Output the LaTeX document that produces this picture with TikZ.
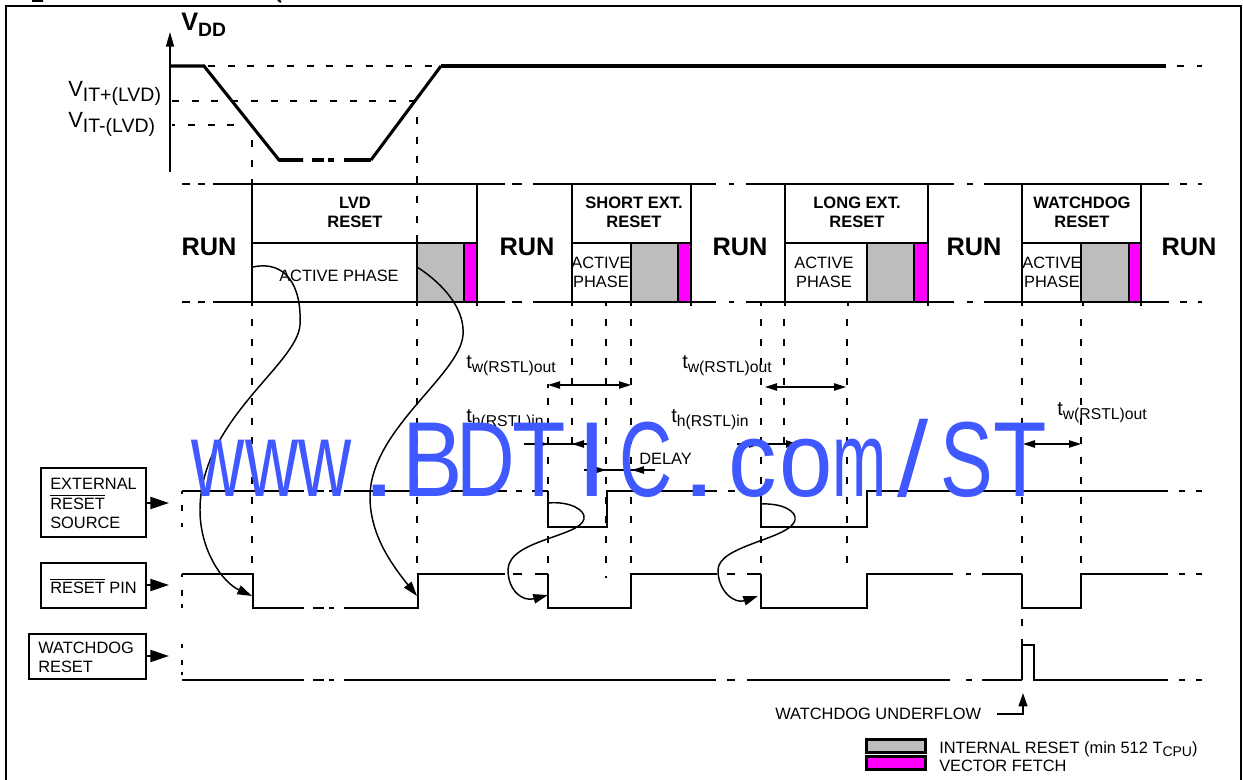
\documentclass[tikz,border=0pt]{standalone}
\usepackage{fontspec}
\usepackage{graphicx}
\setmainfont{Liberation Sans}
\usetikzlibrary{arrows.meta}
\definecolor{wmblue}{RGB}{64,88,255}
\definecolor{resetgray}{RGB}{189,189,189}
\definecolor{fetchmag}{RGB}{255,0,255}
\newcommand{\fnt}[1]{\fontsize{#1}{#1}\selectfont}
\newcommand{\reg}{\fnt{12.3}}
\newcommand{\tsym}[1]{{\fnt{15}t}\raisebox{-3pt}{\fnt{11.8}#1}}
\newcommand{\wg}[2]{\makebox[40.09pt][c]{\scalebox{#1}[1]{#2}}}
\tikzset{
  x=0.75pt,y=-0.75pt,
  sig/.style={line width=1.5pt,line cap=butt},
  thin line/.style={line width=1pt},
  dash line/.style={line width=1.5pt,dash pattern=on 5.2pt off 9.6pt},
  thick sig/.style={line width=3pt},
  mid sig/.style={line width=2.3pt},
  tip/.style={-{Triangle[length=14pt,width=9pt]}},
  tiptwo/.style={{Triangle[length=9pt,width=5.5pt]}-{Triangle[length=9pt,width=5.5pt]}},
  tipone/.style={-{Triangle[length=9pt,width=5.5pt]}},
  curve/.style={line width=1.1pt,-{Triangle[length=11pt,width=7pt]}},
  lbl/.style={anchor=base west,inner sep=0pt,font=\reg},
  lblc/.style={anchor=base,inner sep=0pt,font=\reg,align=center},
  boldc/.style={anchor=base,inner sep=0pt,font=\fnt{12.4}\bfseries},
  runlbl/.style={anchor=center,inner sep=0pt,font=\fnt{19}\bfseries},
  boxn/.style={draw=black,line width=1.5pt,anchor=north west,inner sep=0pt},
  legbox/.style={draw=black,line width=2pt,anchor=north west,minimum width=44.5pt,minimum height=10pt,inner sep=0pt},
}
\begin{document}
\begin{tikzpicture}
\useasboundingbox (0,0) rectangle (1243,780);
% frame
\draw[line width=1.5pt] (6,780) -- (6,6) -- (1241,6) -- (1241,780);
\draw[line width=1.5pt] (32,1) -- (43,1) (278,0) -- (281,2);

% VDD axis
\coordinate (axb) at (170,172); \coordinate (axt) at (170,32);
\draw[line width=1.2pt,-{Triangle[length=11pt,width=6pt]}] (axb) -- (axt);
\node[anchor=base west,inner sep=0pt] (vdd) at (181,31) {\fnt{19}\bfseries V\raisebox{-4.5pt}{\fnt{14.5}DD}};
\node[anchor=base west,inner sep=0pt] (vp) at (68,97) {\fnt{16.5}V\raisebox{-3.5pt}{\fnt{14.6}IT+(LVD)}};
\node[anchor=base west,inner sep=0pt] (vm) at (68,128) {\fnt{16.5}V\raisebox{-3.5pt}{\fnt{14.6}IT-(LVD)}};

% threshold dashes
\draw[dash line] (208,66) -- (441,66);
\draw[dash line] (172,101) -- (417,101);
\draw[sig] (172,125) -- (175,125);
\draw[dash line] (188,125) -- (240,125);
% VDD curve
\draw[mid sig,line join=miter] (170,66) -- (204,66) -- (279,160) -- (303,160);
\draw[thick sig] (279,160) -- (303,160) (312,160) -- (324,160) (328,160) -- (334,160) (344,160) -- (371,160);
\draw[mid sig] (371,160) -- (441,66);
\draw[thick sig] (441,66) -- (1166,66);
\draw[line width=2pt] (1177,66) -- (1184,66) (1197,66) -- (1202,66);

% phase fills
\foreach \a/\b/\c in {417/464/477,631/678/691,867/914/928,1081/1129/1141}{
  \fill[resetgray] (\a,243) rectangle (\b,302);
  \fill[fetchmag] (\b,243) rectangle (\c,302);
  \draw[sig] (\a,243) -- (\a,302) (\b,243) -- (\b,302);
}
% phase table lines
\draw[sig] (182,184) -- (190,184) (198,184) -- (205,184) (213,184) -- (505,184) (512,184) -- (522,184) (533,184) -- (716,184) (729,184) -- (734,184) (746,184) -- (954,184) (967,184) -- (973,184) (984,184) -- (1169,184) (1180,184) -- (1187,184) (1198,184) -- (1202,184);
\draw[sig] (182,302) -- (190,302) (198,302) -- (205,302) (213,302) -- (505,302) (512,302) -- (522,302) (533,302) -- (716,302) (729,302) -- (734,302) (746,302) -- (954,302) (967,302) -- (973,302) (984,302) -- (1169,302) (1180,302) -- (1187,302) (1198,302) -- (1202,302);
\draw[sig] (252,243) -- (477,243) (572,243) -- (691,243) (785,243) -- (928,243) (1022,243) -- (1141,243);
\foreach \x in {252,477,572,691,785,928,1022,1141}{ \draw[sig] (\x,184) -- (\x,302); }
\foreach \x in {252,417,477,572,606,631,691,761,785,848,928,1022,1083,1141}{ \draw[sig] (\x,302) -- (\x,306); }

% phase texts
\node[runlbl] (run1) at (209,247) {RUN};
\node[runlbl] (run2) at (527,247) {RUN};
\node[runlbl] (run3) at (740,247) {RUN};
\node[runlbl] (run4) at (974,247) {RUN};
\node[runlbl] (run5) at (1189,247) {RUN};
\foreach \n/\x/\t in {a/355/LVD,b/634/SHORT EXT.,c/857/LONG EXT.,d/1082/WATCHDOG}{
  \node[boldc] (h\n) at (\x,208.5) {\t};
  \node[boldc] (r\n) at (\x,227.5) {RESET};
}
\node[lblc] (ap1) at (339,282) {ACTIVE PHASE};
\foreach \n/\x in {b/601,c/824,d/1052}{
  \node[lblc] (aa\n) at (\x,269) {ACTIVE};
  \node[lblc] (ab\n) at (\x,288) {PHASE};
}

% vertical dashed guides
\draw[dash line] (252,140) -- (252,184);
\draw[dash line] (417,117) -- (417,243);
\draw[dash line] (252,319) -- (252,574);
\draw[dash line] (417,319) -- (417,574);
\draw[sig] (548,384) -- (548,388);
\draw[dash line] (548,398) -- (548,574);
\draw[dash line] (572,319) -- (572,443);
\draw[dash line] (606,319) -- (606,578);
\draw[dash line] (631,319) -- (631,574);
\draw[dash line] (761,319) -- (761,574);
\draw[dash line] (784,319) -- (784,443);
\draw[dash line] (847,319) -- (847,575);
\draw[dash line] (1022,319) -- (1022,574);
\draw[dash line] (1022,619) -- (1022,650);
\draw[dash line] (1081,319) -- (1081,574);
\draw[sig] (182,491) -- (182,494) (182,505) -- (182,511) (182,523) -- (182,527);
\draw[sig] (182,574) -- (182,577) (182,590) -- (182,596) (182,604) -- (182,608);
\draw[sig] (182,644) -- (182,648) (182,660) -- (182,665) (182,672) -- (182,675);

% external reset waveform
\draw[sig] (182,491) -- (304,491) (313,491) -- (324,491) (329,491) -- (334,491) (344,491) -- (507,491) (516,491) -- (522,491) (532,491) -- (548,491);
\draw[sig] (548,491) -- (548,527) -- (607,527) -- (607,491) -- (717,491) (728,491) -- (735,491) (750,491) -- (761,491);
\draw[sig] (761,491) -- (761,527) -- (867,527) -- (867,491) -- (1168,491) (1179,491) -- (1185,491) (1196,491) -- (1202,491);
% reset pin waveform
\draw[sig] (182,574) -- (253,574) -- (253,608) -- (304,608) (313,608) -- (324,608) (329,608) -- (334,608) (344,608) -- (418,608) -- (418,574) -- (505,574) (513,574) -- (522,574) (535,574) -- (548,574);
\draw[sig] (548,574) -- (548,608) -- (631,608) -- (631,574) -- (717,574) (727,574) -- (735,574) (747,574) -- (761,574);
\draw[sig] (761,574) -- (761,608) -- (867,608) -- (867,574) -- (953,574) (966,574) -- (971,574) (982,574) -- (1022,574);
\draw[sig] (1022,574) -- (1022,608) -- (1081,608) -- (1081,574) -- (1168,574) (1179,574) -- (1185,574) (1196,574) -- (1202,574);
% watchdog waveform
\draw[sig] (182,680) -- (304,680) (313,680) -- (324,680) (329,680) -- (334,680) (344,680) -- (716,680) (727,680) -- (735,680) (747,680) -- (950,680) (966,680) -- (972,680) (982,680) -- (1022,680);
\draw[sig] (1022,680) -- (1022,645) -- (1034,645) -- (1034,680) -- (1168,680) (1179,680) -- (1185,680) (1196,680) -- (1202,680);

% curved arrows
\draw[curve] (253,267) .. controls (285,260) and (302,285) .. (300,325) .. controls (297,365) and (200,420) .. (200,510) .. controls (200,550) and (222,582) .. (252,596);
\draw[curve] (417,267) .. controls (445,285) and (465,310) .. (463,335) .. controls (460,375) and (370,430) .. (370,497) .. controls (370,535) and (392,565) .. (417,596);
\draw[curve] (548,503) .. controls (570,501) and (586,510) .. (584,519) .. controls (580,537) and (508,540) .. (508,570) .. controls (508,590) and (522,602) .. (548,595);
\draw[curve] (761,504) .. controls (782,503) and (797,511) .. (795,520) .. controls (791,539) and (718,545) .. (718,570) .. controls (718,592) and (735,604) .. (758,596);

% timing arrows
\draw[thin line,tiptwo] (548,385) -- (631,385);
\draw[thin line,tiptwo] (765,387) -- (846,387);
\draw[thin line,tiptwo] (1023,444) -- (1081,444);
\coordinate (ha) at (524,444); \coordinate (hb) at (548,444); \coordinate (hc) at (572,444); \coordinate (hd) at (590,444);
\draw[thin line] (ha) -- (hd);
\draw[thin line,tipone] (ha) -- (hb);
\draw[thin line,tipone] (hd) -- (hc);
\coordinate (ka) at (737,444); \coordinate (kb) at (761,444); \coordinate (kc) at (798,444);
\draw[thin line,tipone] (ka) -- (kb);
\draw[thin line,tipone] (kb) -- (kc);
\coordinate (da) at (584,470); \coordinate (db) at (606,470); \coordinate (dc) at (632,470); \coordinate (dd) at (655,470);
\draw[thin line] (da) -- (dd);
\draw[thin line,tipone] (da) -- (db);
\draw[thin line,tipone] (dd) -- (dc);

% timing labels
\node[anchor=base west,inner sep=0pt] (tw1) at (466,369) {\tsym{w(RSTL)out}};
\node[anchor=base west,inner sep=0pt] (tw2) at (682,369) {\tsym{w(RSTL)out}};
\node[anchor=base west,inner sep=0pt] (tw3) at (1057,416) {\tsym{w(RSTL)out}};
\node[anchor=base west,inner sep=0pt] (th1) at (466,423) {\tsym{h(RSTL)in}};
\node[anchor=base west,inner sep=0pt] (th2) at (671,423) {\tsym{h(RSTL)in}};
\node[lbl] (delay) at (639,465) {DELAY};

% signal boxes
\node[boxn,minimum width=78.75pt,minimum height=51.75pt] (bext) at (40,467) {};
\node[lbl] at (50,489) {EXTERNAL};
\node[lbl] at (50,509) {$\overline{\hbox{RESET}}$};
\node[lbl] at (50,528) {SOURCE};
\node[boxn,minimum width=78.75pt,minimum height=33.75pt] (bpin) at (40,562) {};
\node[lbl] at (50,593) {$\overline{\hbox{RESET}}$ PIN};
\node[boxn,minimum width=87.75pt,minimum height=33.75pt] (bwd) at (28,633) {};
\node[lbl] at (38,653) {WATCHDOG};
\node[lbl] at (38,672) {RESET};
\coordinate (ea) at (169,503); \coordinate (pa) at (169,585); \coordinate (wa) at (169,656);
\draw[sig,tip] (bext.east |- ea) -- (ea);
\draw[sig,tip] (bpin.east |- pa) -- (pa);
\draw[sig,tip] (bwd.east |- wa) -- (wa);

% watchdog underflow
\node[lbl] (wdu) at (775,719) {WATCHDOG UNDERFLOW};
\coordinate (wu1) at (997,714); \coordinate (wu2) at (1023,714); \coordinate (wu3) at (1023,693);
\draw[sig,-{Triangle[length=10pt,width=6.5pt]}] (wu1) -- (wu2) -- (wu3);

% legend
\node[legbox,fill=resetgray] (lg) at (865,738) {};
\node[legbox,fill=fetchmag] (lm) at (865,755) {};
\node[anchor=base west,inner sep=0pt,font=\reg] (lgt) at (939,753) {INTERNAL RESET (min 512 T\raisebox{-2.5pt}{\fnt{10.5}CPU})};
\node[lbl] (lmt) at (939,771) {VECTOR FETCH};

% watermark
\node[anchor=base west,inner sep=0pt,text=wmblue,font=\fnt{80}] (wm) at (191.5,497) {\wg{.69}{w}\wg{.69}{w}\wg{.69}{w}\wg{1.2}{.}\wg{.85}{B}\wg{.76}{D}\wg{.82}{T}\wg{1}{I}\wg{.69}{C}\wg{1.2}{.}\wg{.91}{c}\wg{.9}{o}\wg{.61}{m}\wg{1.05}{/}\wg{.74}{S}\wg{.82}{T}};
\end{tikzpicture}
\end{document}
